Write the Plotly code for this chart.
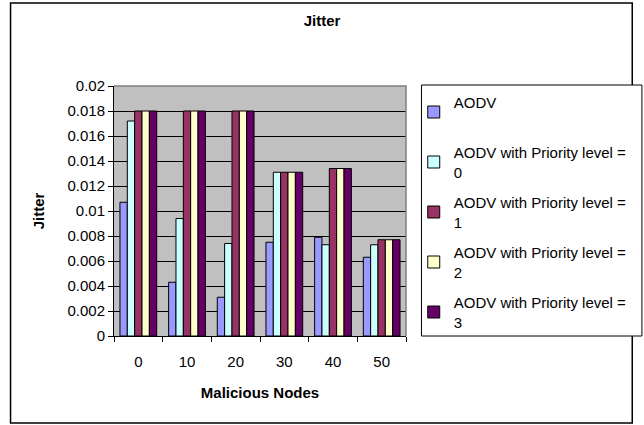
import plotly.graph_objects as go

# Jitter measured for each malicious-node count
malicious_nodes = ["0", "10", "20", "30", "40", "50"]
series_names = [
    "AODV<br> ",
    "AODV with Priority level =<br>0",
    "AODV with Priority level =<br>1",
    "AODV with Priority level =<br>2",
    "AODV with Priority level =<br>3",
]
aodv = [0.0107, 0.0043, 0.0031, 0.0075, 0.0079, 0.0063]
priority_0 = [0.0172, 0.0094, 0.0074, 0.0131, 0.0073, 0.0073]
priority_1 = [0.018, 0.018, 0.018, 0.0131, 0.0134, 0.0077]
priority_2 = [0.018, 0.018, 0.018, 0.0131, 0.0134, 0.0077]
priority_3 = [0.018, 0.018, 0.018, 0.0131, 0.0134, 0.0077]
y_ticks = [0, 0.002, 0.004, 0.006, 0.008, 0.01, 0.012, 0.014, 0.016, 0.018, 0.02]
y_tick_text = ["0", "0.002", "0.004", "0.006", "0.008", "0.01", "0.012",
               "0.014", "0.016", "0.018", "0.02"]

colors = ["#9999FF", "#CCFFFF", "#993366", "#FFFFCC", "#660066"]
values = [aodv, priority_0, priority_1, priority_2, priority_3]

W, H = 644, 425
L, R, T, B = 114, 228, 86, 89
pw, ph = W - L - R, H - T - B

font = "Liberation Sans, Arial, sans-serif"

fig = go.Figure()
for i, (name, vals, col) in enumerate(zip(series_names, values, colors)):
    fig.add_trace(go.Bar(
        x=malicious_nodes, y=vals, name=name, legendgroup=str(i),
        marker=dict(color=col, line=dict(color="black", width=1)),
    ))

def px_x(x):
    return (x - L) / pw

def px_y(y):
    return (H - B - y) / ph

shapes = [
    # outer chart border
    dict(type="rect", xref="paper", yref="paper",
         x0=px_x(7), x1=px_x(650), y0=px_y(423), y1=px_y(3),
         line=dict(color="black", width=1.5), layer="below"),
    # legend frame
    dict(type="rect", xref="paper", yref="paper",
         x0=px_x(432), x1=px_x(660), y0=px_y(336), y1=px_y(85),
         line=dict(color="black", width=1), fillcolor="white", layer="below"),
    # plot area border (top and right)
    dict(type="path", xref="paper", yref="paper",
         path="M 0,1 L 1,1 L 1,0", line=dict(color="#808080", width=1.5),
         layer="above"),
]

fig.update_layout(
    width=W, height=H,
    margin=dict(l=L, r=R, t=T, b=B),
    paper_bgcolor="white",
    plot_bgcolor="#C0C0C0",
    font=dict(family=font, size=15, color="black"),
    barmode="group", bargap=0.245, bargroupgap=0,
    title=dict(text="<b>Jitter</b>", x=0.5, xref="container",
               y=1 - 21 / H, yref="container", yanchor="middle",
               font=dict(size=15)),
    showlegend=True,
    legend=dict(
        x=px_x(424), xanchor="left", y=px_y(86), yanchor="top",
        borderwidth=0, bgcolor="rgba(0,0,0,0)",
        tracegroupgap=8, itemwidth=30, maxheight=400,
        font=dict(size=15),
    ),
    shapes=shapes,
    xaxis=dict(
        type="category",
        title=dict(text="<b>Malicious Nodes</b>", standoff=18,
                   font=dict(size=15)),
        showline=True, linecolor="black", linewidth=1,
        ticks="outside", tickson="boundaries", ticklen=5,
        tickcolor="black", showgrid=False, ticklabelstandoff=12,
    ),
    yaxis=dict(
        range=[0, 0.02],
        title=dict(text="<b>Jitter</b>", standoff=19, font=dict(size=15)),
        tickvals=y_ticks, ticktext=y_tick_text,
        showline=True, linecolor="black", linewidth=1,
        ticks="outside", ticklen=5, tickcolor="black",
        showgrid=True, gridcolor="black", gridwidth=1,
        zeroline=False,
    ),
)

fig.write_html("out.html")
